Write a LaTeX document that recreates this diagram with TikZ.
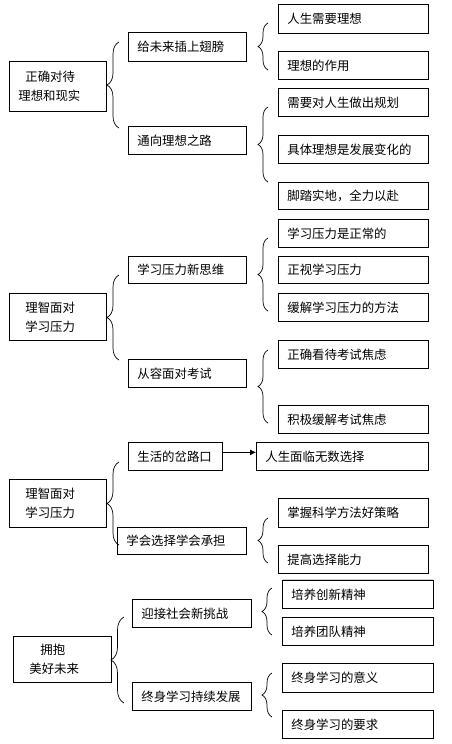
\documentclass[tikz,border=0pt]{standalone}
\usepackage{fontspec}
\newfontfamily\cjk{Noto Sans CJK SC}
\usetikzlibrary{decorations.pathreplacing, arrows.meta}

\tikzset{
	box/.style = {draw, line width = 0.8pt, anchor = north west, inner xsep = 9pt, inner ysep = 0pt, minimum height = 28pt, text width = #1, align = left},
	rootbox/.style = {box = #1, minimum height = 48pt, inner xsep = 16pt},
}

\begin{document}
\begin{tikzpicture}[x = 1pt, y = -1pt, font = \cjk\fontsize{12.4}{19}\selectfont]
					\useasboundingbox (0,0) rectangle (452,744);

					\def\xMID{128};
					\def\xSUB{278};
					\def\wMID{100pt};
					\def\wSUB{132pt};

					\newcommand{\drawBrace}[4]
					{
						\draw [line width = 0.7pt, decorate, decoration = {brace, amplitude = #4}] (#1,#3) -- (#1,#2)
					}

					\begin{scope}
						\node [rootbox = 79pt, inner xsep = 9pt, minimum height = 50pt] (ideal) at (9,61) {\hspace*{7pt}正确对待\\理想和现实};
						\node [box = \wMID, minimum height = 29pt] (wings) at (\xMID,32) {给未来插上翅膀};
						\node [box = \wMID] (path) at (\xMID,126) {通向理想之路};
						\node [box = \wSUB, minimum height = 29pt] (needIdeal) at (\xSUB,4) {人生需要理想};
						\node [box = \wSUB] (roleIdeal) at (\xSUB,51) {理想的作用};
						\node [box = \wSUB] (plan) at (\xSUB,88) {需要对人生做出规划};
						\node [box = \wSUB] (change) at (\xSUB,135) {具体理想是发展变化的};
						\node [box = \wSUB, minimum height = 27pt] (effort) at (\xSUB,182) {脚踏实地，全力以赴};
						\drawBrace{119}{42}{128}{12pt};
						\drawBrace{268}{23}{70}{10pt};
						\drawBrace{268}{107}{182}{10pt};
					\end{scope}

					\begin{scope}
						\node [rootbox = 65pt, minimum height = 47pt] (stress) at (9,293) {理智面对\\学习压力};
						\node [box = \wMID, minimum height = 27pt] (newThink) at (\xMID,256) {学习压力新思维};
						\node [box = \wMID] (calmExam) at (\xMID,359) {从容面对考试};
						\node [box = \wSUB] (normal) at (\xSUB,219) {学习压力是正常的};
						\node [box = \wSUB, minimum height = 27pt] (face) at (\xSUB,256) {正视学习压力};
						\node [box = \wSUB] (relieve) at (\xSUB,293) {缓解学习压力的方法};
						\node [box = \wSUB] (viewAnxiety) at (\xSUB,340) {正确看待考试焦虑};
						\node [box = \wSUB] (easeAnxiety) at (\xSUB,405) {积极缓解考试焦虑};
						\drawBrace{119}{275}{360}{12pt};
						\drawBrace{268}{238}{311}{10pt};
						\drawBrace{268}{350}{423}{10pt};
					\end{scope}

					\begin{scope}
						\node [rootbox = 65pt] (choice) at (9,479) {理智面对\\学习压力};
						\node [box = 76pt] (crossroad) at (\xMID,442) {生活的岔路口};
						\node [box = 154pt] (manyChoices) at (256,442) {人生面临无数选择};
						\node [box = 111pt, minimum height = 27pt] (chooseBear) at (117,527) {学会选择学会承担};
						\node [box = \wSUB, minimum height = 29pt] (strategy) at (\xSUB,498) {掌握科学方法好策略};
						\node [box = \wSUB] (ability) at (\xSUB,545) {提高选择能力};
						\draw [line width = 0.8pt, -{Latex[length = 6pt, width = 6pt]}] ([yshift = 4pt]crossroad.east) -- ([yshift = 4pt]manyChoices.west);
						\drawBrace{119}{462}{545}{12pt};
						\drawBrace{268}{518}{563}{10pt};
						\draw [gray!40] (283,579) -- (433,579);
					\end{scope}

					\begin{scope}
						\node [rootbox = 66pt, minimum height = 46pt] (future) at (13,636) {\hspace*{11pt}拥抱\\美好未来};
						\node [box = 101pt] (challenge) at (132,599) {迎接社会新挑战};
						\node [box = 101pt] (lifelong) at (132,682) {终身学习持续发展};
						\node [box = 133pt] (innovate) at (282,580) {培养创新精神};
						\node [box = 133pt] (team) at (282,617) {培养团队精神};
						\node [box = 133pt, minimum height = 29pt] (meaning) at (282,663) {终身学习的意义};
						\node [box = 133pt] (demand) at (282,710) {终身学习的要求};
						\drawBrace{124}{617}{703}{13pt};
						\drawBrace{272}{588}{635}{10pt};
						\drawBrace{272}{673}{717}{10pt};
					\end{scope}

				\end{tikzpicture}
\end{document}
